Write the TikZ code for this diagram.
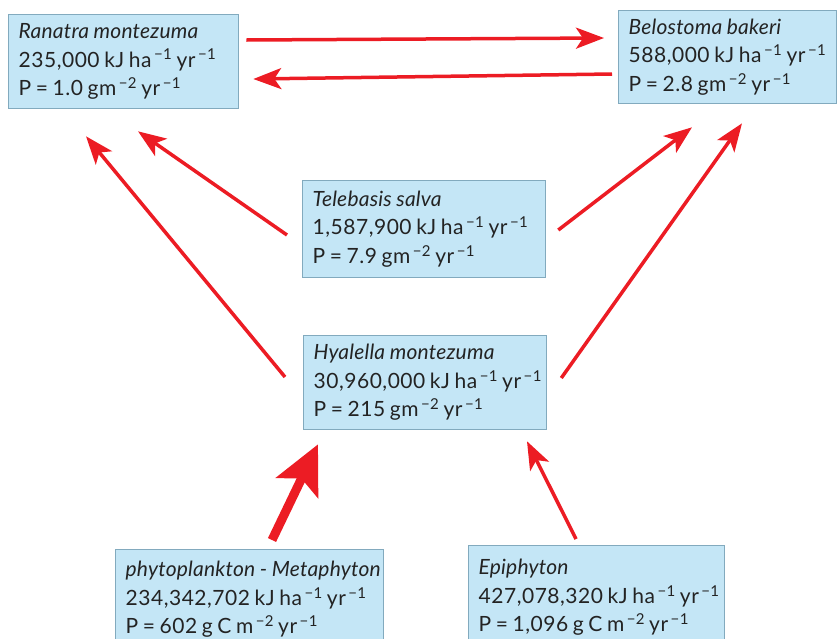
\documentclass[tikz,border=0pt]{standalone}
\usepackage{fontspec}
\setmainfont{Lato}[LetterSpace=2.5, ItalicFeatures={LetterSpace=1}]
\usetikzlibrary{calc,arrows.meta}
\definecolor{boxfill}{RGB}{196,230,246}
\definecolor{boxline}{RGB}{130,170,190}
\definecolor{arrowred}{RGB}{236,28,36}
\definecolor{txt}{RGB}{35,35,35}
\newcommand{\spw}[1]{\raisebox{0.7ex}{\fontsize{15}{15}\selectfont\,#1}}
\newcommand{\tln}[1]{\mbox{\spaceskip=0.22em\relax #1}}
\tikzset{
  x=1pt,y=-1pt,
  box/.style={draw=boxline, fill=boxfill, line width=1.3pt, anchor=north west,
    inner xsep=10pt, inner ysep=4pt, align=left, text=txt,
    font=\fontsize{21}{28.5}\selectfont},
  feed/.style={draw=arrowred, line width=3.5pt,
    -{Stealth[length=28pt,width=21pt,inset=7pt]}},
  bigfeed/.style={draw=arrowred, line width=9pt,
    -{Stealth[length=48pt,width=46pt,inset=10pt]}}
}
\begin{document}
\begin{tikzpicture}
\useasboundingbox (0,0) rectangle (838,638);
\node[box, minimum width=230pt, minimum height=94pt, text width=210pt] (ran) at (8,14)
  {\tln{\textit{Ranatra montezuma}}\\\tln{235,000 kJ ha\spw{−1} yr\spw{−1}}\\\tln{P = 1.0 gm\spw{−2} yr\spw{−1}}};
\node[box, minimum width=218pt, minimum height=93pt, text width=198pt] (bel) at (618,10)
  {\tln{\textit{Belostoma bakeri}}\\\tln{588,000 kJ ha\spw{−1} yr\spw{−1}}\\\tln{P = 2.8 gm\spw{−2} yr\spw{−1}}};
\node[box, minimum width=243pt, minimum height=97pt, text width=223pt] (tel) at (302,180)
  {\tln{\textit{Telebasis salva}}\\\tln{1,587,900 kJ ha\spw{−1} yr\spw{−1}}\\\tln{P = 7.9 gm\spw{−2} yr\spw{−1}}};
\node[box, minimum width=243pt, minimum height=94pt, text width=223pt] (hya) at (303,335)
  {\tln{\textit{Hyalella montezuma}}\\\tln{30,960,000 kJ ha\spw{−1} yr\spw{−1}}\\\tln{P = 215 gm\spw{−2} yr\spw{−1}}};
\node[box, minimum width=268pt, minimum height=100pt, text width=248pt] (phy) at (115,549)
  {\tln{\textit{phytoplankton - Metaphyton}}\\\tln{234,342,702 kJ ha\spw{−1} yr\spw{−1}}\\\tln{P = 602 g C m\spw{−2} yr\spw{−1}}\\[4pt]};
\node[box, minimum width=256pt, minimum height=104pt, text width=236pt] (epi) at (468,545)
  {\tln{\textit{Epiphyton}}\\\tln{427,078,320 kJ ha\spw{−1} yr\spw{−1}}\\\tln{P = 1,096 g C m\spw{−2} yr\spw{−1}}\\[4pt]};

\draw[feed] ($(ran.north east)+(7,26)$) -- ($(bel.north west)+(-14,28)$);
\draw[feed] ($(bel.north west)+(-6,64)$) -- ($(ran.north east)+(14,65)$);
\draw[feed] ($(tel.north west)+(-15,55)$) -- ($(ran.south west)+(130,22)$);
\draw[feed] ($(hya.north west)+(-18,42)$) -- ($(ran.south west)+(78,27)$);
\draw[feed] ($(tel.north east)+(12,50)$) -- ($(bel.south west)+(74,23)$);
\draw[feed] ($(hya.north east)+(14,43)$) -- ($(bel.south west)+(124,19)$);
\draw[bigfeed] ($(phy.north west)+(157,-9)$) -- ($(hya.south west)+(15,14)$);
\draw[feed] ($(epi.north west)+(108,-6)$) -- ($(hya.south west)+(224,11)$);
\end{tikzpicture}
\end{document}
